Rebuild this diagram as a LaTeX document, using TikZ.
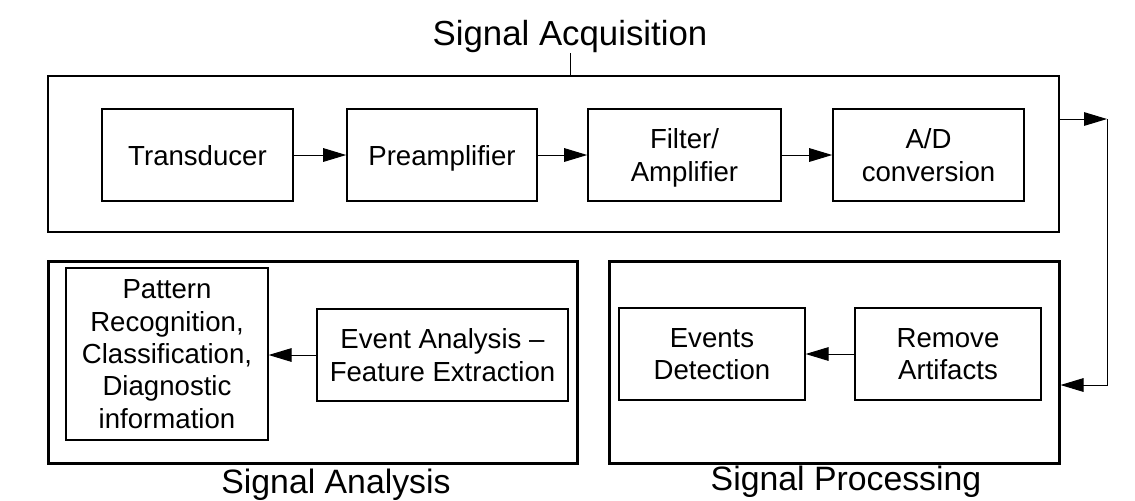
\documentclass[tikz,border=0pt]{standalone}
\usepackage{fontspec}
\setmainfont{Liberation Sans}
\usetikzlibrary{arrows.meta}
\begin{document}
\begin{tikzpicture}[x=0.5pt, y=-0.5pt,
        block/.style={draw, line width=0.8pt, align=center, inner sep=0pt, text depth=0pt, minimum height=46pt, font=\fontsize{13.8}{16.2}\selectfont},
        stage/.style={draw, inner sep=0pt},
        caption/.style={inner sep=0pt, font=\fontsize{16.9}{19}\selectfont},
        sig/.style={-{Triangle[length=11.5pt, width=6.8pt]}, line width=0.5pt}]
            \useasboundingbox (0, 0) rectangle (1135, 500);

            % the three stages
            \node[stage, line width=0.75pt, minimum width=505.5pt, minimum height=78pt] (acq) at (553.5, 154) {};
            \node[stage, line width=1.5pt, minimum width=264.5pt, minimum height=101pt] (ana) at (312.5, 362) {};
            \node[stage, line width=1.5pt, minimum width=225pt, minimum height=101pt] (proc) at (834, 362) {};

            \node[caption, anchor=south, font=\fontsize{17.4}{19}\selectfont] (acqlab) at (570, 53) {Signal Acquisition};
            \node[caption, anchor=base] (analab) at (336, 493) {Signal Analysis};
            \node[caption, anchor=base] (proclab) at (846, 490) {Signal Processing};
            \draw[line width=0.5pt] (acqlab.south) -- (acqlab.south |- acq.north);

            % acquisition chain
            \node[block, minimum width=95.5pt] (trans) at (197.5, 155) {Transducer};
            \node[block, minimum width=95pt] (pre) at (442, 155) {Preamplifier};
            \node[block, minimum width=96.5pt] (filt) at (684.5, 155) {Filter/\\Amplifier};
            \node[block, minimum width=95.5pt] (adc) at (928.5, 155) {A/D\\conversion};

            \draw[sig] (trans) -- (pre);
            \draw[sig] (pre) -- (filt);
            \draw[sig] (filt) -- (adc);

            % processing
            \node[block, line width=0.6pt, minimum width=93pt] (det) at (712, 354) {Events\\Detection};
            \node[block, line width=0.6pt, minimum width=93pt] (rem) at (948, 354) {Remove\\Artifacts};
            \draw[sig] (rem) -- (det);

            % analysis
            \node[block, line width=0.6pt, minimum width=101pt, minimum height=86pt] (pat) at (167, 354) {Pattern\\Recognition,\\Classification,\\Diagnostic\\information};
            \node[block, line width=0.6pt, minimum width=125.5pt] (evt) at (442.5, 355) {Event Analysis --\\Feature Extraction};
            \draw[sig] (evt.west) -- (evt.west -| pat.east);

            % loop from acquisition down to processing
            \coordinate (loopTop) at (1107, 119);
            \coordinate (loopBot) at (1107, 385);
            \draw[sig] (acq.east |- loopTop) -- (loopTop);
            \draw[sig] (loopTop) -- (loopBot) -- (proc.east |- loopBot);
        \end{tikzpicture}
\end{document}
